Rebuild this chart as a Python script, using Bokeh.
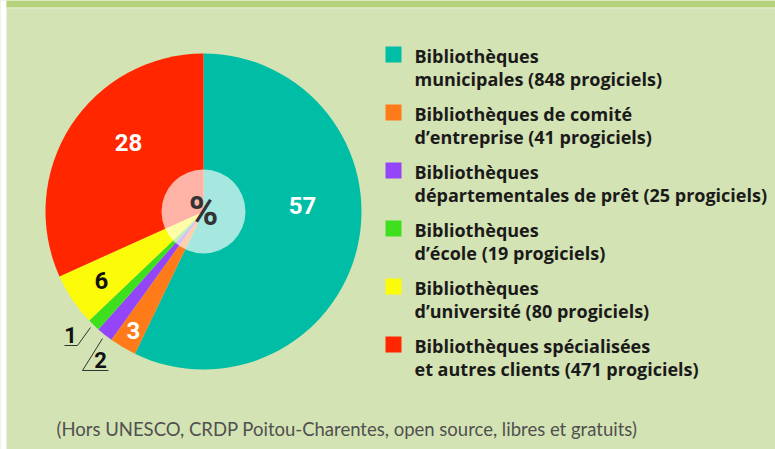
import math
from bokeh.plotting import figure
from bokeh.models import Range1d
from bokeh.core.properties import value
from bokeh.embed import file_html
from bokeh.resources import INLINE

# ---- data ----
categories = [
    "Bibliothèques\nmunicipales (848 progiciels)",
    "Bibliothèques de comité\nd’entreprise (41 progiciels)",
    "Bibliothèques\ndépartementales de prêt (25 progiciels)",
    "Bibliothèques\nd’école (19 progiciels)",
    "Bibliothèques\nd’université (80 progiciels)",
    "Bibliothèques spécialisées\net autres clients (471 progiciels)",
]
counts = [848, 41, 25, 19, 80, 471]
pct_labels = ["57", "3", "2", "1", "6", "28"]
colors = ["#00bea5", "#ff7a18", "#9345f7", "#3ee01e", "#fbfb0a", "#ff2600"]
note = "(Hors UNESCO, CRDP Poitou-Charentes, open source, libres et gratuits)"

# ---- layout ----
W, H = 775, 449
def Y(y):
    return H - y

p = figure(width=W, height=H, output_backend="svg", toolbar_location=None,
           x_range=Range1d(0, W), y_range=Range1d(0, H), min_border=0)
p.axis.visible = False
p.grid.visible = False
p.outline_line_color = None
p.background_fill_color = "#d4e3b3"
p.border_fill_color = "#d4e3b3"

# decorations: white left strip, top band
p.quad(left=0, right=6, bottom=0, top=H, fill_color="white", line_color=None)
p.quad(left=6, right=W, bottom=Y(7), top=H, fill_color="#b5d17c", line_color=None)
p.quad(left=6, right=W, bottom=Y(8), top=Y(7), fill_color="#e6f0d2", line_color=None)

cx, cy, R, r_in = 203, 211, 158, 42
total = float(sum(counts))
starts, ends = [], []
cum = 0.0
for c in counts:
    starts.append(math.pi / 2 - 2 * math.pi * cum / total)
    cum += c
    ends.append(math.pi / 2 - 2 * math.pi * cum / total)

p.wedge(x=[cx] * len(counts), y=[Y(cy)] * len(counts), radius=R, radius_units="screen",
        start_angle=starts, end_angle=ends, direction="clock",
        fill_color=colors, line_color=None)

# center translucent disc + %
p.scatter(x=[cx], y=[Y(cy)], size=2 * r_in, marker="circle",
          fill_color="white", fill_alpha=0.65, line_color=None)
p.text(x=[cx], y=[Y(cy)], text=["%"], text_font=value("Roboto"), text_font_style="bold",
       text_font_size="40px", text_color="#333333", text_align="center", text_baseline="middle")

# percentage labels inside slices
lab_pos = {"57": (302, 205), "3": (133, 330), "6": (101, 280), "28": (128, 142)}
lab_col = {"57": "white", "3": "white", "6": "#111111", "28": "white"}
for lab in pct_labels:
    if lab in lab_pos:
        x, y = lab_pos[lab]
        p.text(x=[x], y=[Y(y)], text=[lab], text_font=value("Roboto"), text_font_style="bold",
               text_font_size="24px", text_color=lab_col[lab], text_align="center",
               text_baseline="middle")

# callouts for small slices
p.text(x=[70], y=[Y(334)], text=[pct_labels[3]], text_font=value("Roboto"), text_font_style="bold",
       text_font_size="22px", text_color="#111111", text_align="center", text_baseline="middle")
p.line(x=[64, 77, 90], y=[Y(345), Y(345), Y(327)], line_color="#333333", line_width=1)
p.text(x=[100], y=[Y(359)], text=[pct_labels[2]], text_font=value("Roboto"), text_font_style="bold",
       text_font_size="22px", text_color="#111111", text_align="center", text_baseline="middle")
p.line(x=[108, 82, 102], y=[Y(370), Y(370), Y(338)], line_color="#333333", line_width=1)

# legend
for i, (cat, col) in enumerate(zip(categories, colors)):
    yc = 54 + 58 * i
    p.quad(left=385, right=401, top=Y(yc - 8), bottom=Y(yc + 8), fill_color=col, line_color=None)
    l1, l2 = cat.split("\n")
    p.text(x=[414, 414], y=[Y(yc + 1), Y(yc + 24.5)], text=[l1, l2], text_font=value("Open Sans"),
           text_font_style="bold", text_font_size="18px", text_color="#1a1a1a",
           text_align="left", text_baseline="middle")

p.text(x=[56], y=[Y(428)], text=[note], text_font=value("Lato"), text_font_size="18.5px",
       text_color="#505050", text_align="left", text_baseline="middle")

open("out.html", "w").write(file_html(p, INLINE))
